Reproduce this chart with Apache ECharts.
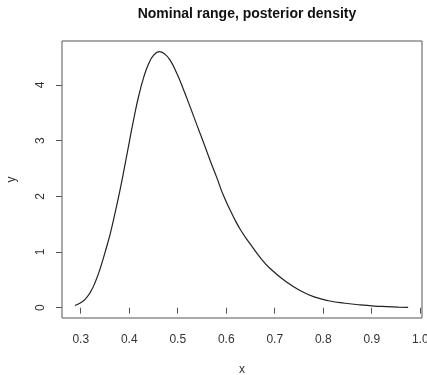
<!DOCTYPE html>
<html>
<head>
<meta charset="utf-8">
<script src="https://cdn.jsdelivr.net/npm/echarts@6/dist/echarts.min.js"></script>
<style>
  html, body { margin: 0; padding: 0; background: #fff; }
  #chart { width: 427px; height: 375px; }
</style>
</head>
<body>
<div id="chart"></div>
<script>
// posterior density curve
const xs = [0.288, 0.300, 0.310, 0.320, 0.330, 0.340, 0.350, 0.360, 0.370, 0.380, 0.390, 0.400, 0.410, 0.420, 0.430, 0.440, 0.450, 0.462,
  0.474, 0.484, 0.498, 0.510, 0.525, 0.540, 0.553, 0.567, 0.580, 0.595, 0.615, 0.630, 0.649, 0.673, 0.691, 0.720, 0.752,
  0.783, 0.814, 0.845, 0.876, 0.905, 0.931, 0.955, 0.975]
const ys = [0.04, 0.09, 0.16, 0.28, 0.46, 0.70, 0.99, 1.30, 1.67, 2.07, 2.51, 2.97, 3.42, 3.82, 4.14, 4.38, 4.53, 4.60,
  4.55, 4.45, 4.21, 3.96, 3.62, 3.27, 2.97, 2.64, 2.35, 2.00, 1.63, 1.39, 1.15, 0.87, 0.70, 0.49, 0.31,
  0.19, 0.12, 0.08, 0.05, 0.03, 0.02, 0.012, 0.007]
const xTicks = [0.3, 0.4, 0.5, 0.6, 0.7, 0.8, 0.9, 1.0]
const yTicks = [0, 1, 2, 3, 4]

const chart = echarts.init(document.getElementById('chart'))
const txt = '#333'
const font = 'Liberation Sans, Arial, sans-serif'

chart.setOption({
  animation: false,
  title: {
    text: 'Nominal range, posterior density',
    left: 242, textAlign: 'center', top: 2,
    textStyle: { fontSize: 14, fontWeight: 'bold', color: '#111', fontFamily: font },
  },
  grid: {
    left: 62, right: 5, top: 41, bottom: 57,
    outerBoundsMode: 'none', containLabel: false,
    show: true, borderColor: '#555', borderWidth: 1, backgroundColor: 'transparent',
  },
  xAxis: {
    type: 'value', min: 0.2614, max: 1.0036,
    name: 'x', nameLocation: 'middle', nameGap: 46,
    nameTextStyle: { fontSize: 12, color: txt, fontFamily: font },
    axisLine: { show: false },
    axisTick: { show: true, length: 6, customValues: xTicks, lineStyle: { color: '#555' } },
    axisLabel: {
      customValues: xTicks, margin: 16, fontSize: 12, color: txt, fontFamily: font,
      formatter: (v) => v.toFixed(1),
    },
    splitLine: { show: false },
  },
  yAxis: {
    type: 'value', min: -0.185, max: 4.79,
    name: 'y', nameLocation: 'middle', nameGap: 44, nameRotate: 90,
    nameTextStyle: { fontSize: 12, color: txt, fontFamily: font },
    axisLine: { show: false },
    axisTick: { show: true, length: 6, customValues: yTicks, lineStyle: { color: '#555' } },
    axisLabel: {
      customValues: yTicks, margin: 15, rotate: 90, fontSize: 12, color: txt, fontFamily: font,
    },
    splitLine: { show: false },
  },
  series: [{
    type: 'line',
    data: xs.map((x, i) => [x, ys[i]]),
    smooth: 0.5,
    showSymbol: false,
    lineStyle: { color: '#222', width: 1.2 },
  }],
})
</script>
</body>
</html>
